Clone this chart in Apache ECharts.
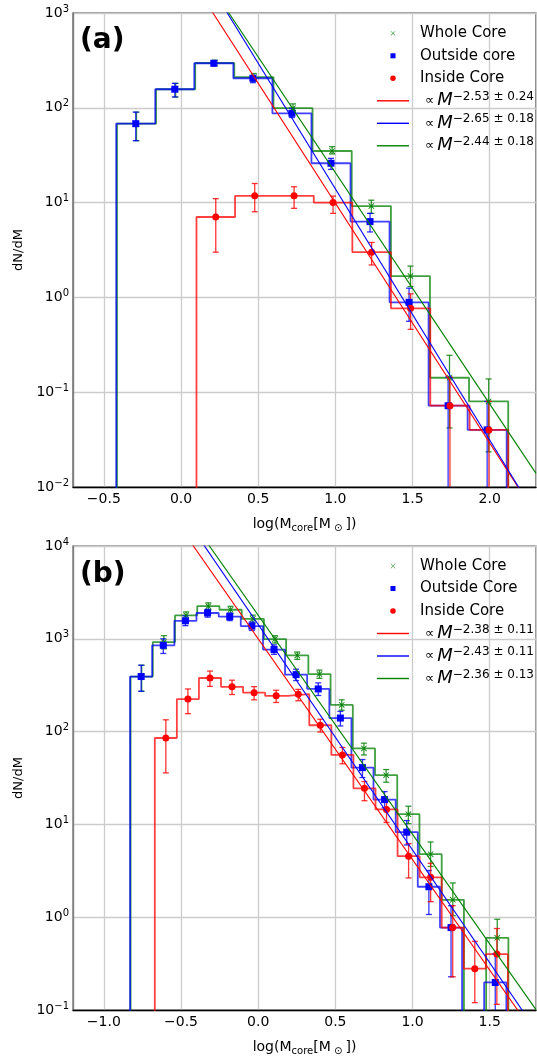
<!DOCTYPE html>
<html><head><meta charset="utf-8">
<script src="https://cdn.jsdelivr.net/npm/echarts@6/dist/echarts.min.js"></script>
<style>html,body{margin:0;padding:0;background:#fff}#c{width:537px;height:1057px}</style>
</head><body><div id="c"></div>
<script>
// ---------------- Panel (a) data ----------------
const A_EDGES_WHOLE   = [-0.415, -0.162, 0.092, 0.345, 0.599, 0.852, 1.106, 1.36, 1.613, 1.866, 2.12];
const A_WHOLE         = [68, 157, 297, 210, 99, 35, 9.2, 1.68, 0.142, 0.080];
const A_WHOLE_ERR     = [[45,90],[130,181],[278,318],[190,230],[90,110],[32.6,38.9],[7.7,10.6],[1.3,2.14],[0.042,0.245],[0.0235,0.138]];
const A_EDGES_OUTSIDE = [-0.42, -0.167, 0.086, 0.339, 0.592, 0.845, 1.098, 1.351, 1.604, 1.857, 2.11];
const A_OUTSIDE       = [68, 157, 295, 205, 87.5, 26, 6.3, 0.887, 0.072, 0.040];
const A_OUTSIDE_ERR   = [[45,90],[130,181],[278,312],[184,216],[79,99],[22.4,29.3],[4.9,7.7],[0.56,1.25],[1e-6,0.144],[1e-6,0.08]];
const A_EDGES_INSIDE  = [0.10, 0.35, 0.605, 0.86, 1.11, 1.36, 1.615, 1.87, 2.12];
const A_INSIDE        = [7.05, 11.8, 11.8, 10.0, 3.0, 0.767, 0.072, 0.040];
const A_INSIDE_ERR    = [[3.0,11],[8.0,15.9],[8.7,14.7],[7.7,11.7],[2.2,3.8],[0.46,1.09],[1e-6,0.144],[1e-6,0.08]];
const A_FIT_INSIDE    = [[0.0, 3340], [2.3, 0.00507]];
const A_FIT_OUTSIDE   = [[0.0, 6240], [2.3, 0.00501]];
const A_FIT_WHOLE     = [[0.0, 5710], [2.3, 0.01393]];
const A_FIT_LABELS    = ['−2.53 ± 0.24', '−2.65 ± 0.18', '−2.44 ± 0.18'];
const A_NAMES         = ['Whole Core', 'Outside core', 'Inside Core'];

// ---------------- Panel (b) data ----------------
const B_EDGES_WHOLE   = [-0.827,-0.683,-0.539,-0.395,-0.251,-0.107,0.037,0.181,0.325,0.469,0.613,0.757,0.901,1.045,1.189,1.333,1.477,1.621];
const B_WHOLE         = [392, 923, 1791, 2249, 2056, 1642, 993, 662, 417, 194, 65.9, 33.9, 12.9, 4.78, 1.54, 0, 0.60];
const B_WHOLE_ERR     = [[272,519],[780,1080],[1630,1950],[2060,2440],[1870,2240],[1480,1800],[900,1080],[600,720],[375,460],[170,220],[56,75],[28.5,39],[10.2,15.7],[3.52,6.46],[1.04,2.34],null,[0.38,0.95]];
const B_EDGES_OUTSIDE = [-0.83,-0.687,-0.543,-0.400,-0.256,-0.113,0.031,0.174,0.317,0.461,0.604,0.747,0.891,1.034,1.178,1.321,1.464,1.608];
const B_OUTSIDE       = [392, 851, 1563, 1897, 1735, 1371, 766, 411, 288, 140, 40.9, 18.5, 8.24, 2.13, 0.773, 0, 0.198];
const B_OUTSIDE_ERR   = [[272,519],[695,1000],[1385,1767],[1710,2080],[1570,1900],[1230,1520],[680,860],[355,470],[245,335],[115,165],[32,50],[15.1,22.6],[6,11],[1.07,3.19],[0.228,1.33],null,[1e-6,0.4]];
const B_EDGES_INSIDE  = [-0.67,-0.527,-0.384,-0.241,-0.098,0.045,0.188,0.331,0.474,0.617,0.760,0.903,1.046,1.189,1.332,1.475,1.618];
const B_INSIDE        = [85.3, 224, 378, 304, 263, 243, 253, 117, 56.1, 24.5, 14.5, 4.55, 2.69, 0.773, 0.279, 0.401];
const B_INSIDE_ERR    = [[35.9,134],[156,288],[307,449],[251,358],[220,305],[206,279],[215,285],[99,136],[45,67.5],[18,29],[10.5,17.7],[2.65,6.2],[1.47,3.81],[0.228,1.33],[0.12,0.55],[0.115,0.755]];
const B_FIT_INSIDE    = [[-0.6, 26800], [1.8, 0.052]];
const B_FIT_OUTSIDE   = [[-0.6, 40900], [1.8, 0.0603]];
const B_FIT_WHOLE     = [[-0.6, 46800], [1.8, 0.101]];
const B_FIT_LABELS    = ['−2.38 ± 0.11', '−2.43 ± 0.11', '−2.36 ± 0.13'];
const B_NAMES         = ['Whole Core', 'Outside Core', 'Inside Core'];

// ---------------- helpers ----------------
const FONT = 'DejaVu Sans';
const GREEN = '#008000', BLUE = '#0000ff', RED = '#ff0000';
const FLOOR = 1e-6;
const X_PATH = 'path://M1,0L5,4L9,0L10,1L6,5L10,9L9,10L5,6L1,10L0,9L4,5L0,1Z';
const X_ICON = 'path://M0,0M100,100M32,30L50,47L68,30L70,32L53,50L70,68L68,70L50,53L32,70L30,68L47,50L30,32Z';
const SQ_ICON = 'path://M0,0M100,100M29,29H71V71H29Z';
const CI_ICON = 'path://M0,0M100,100M50,27A23,23,0,1,1,49.9,27Z';
const LN_ICON = 'path://M0,0H320V14H0Z';

function stepData(edges, vals) {
  const pts = [[edges[0], FLOOR]];
  vals.forEach((v, i) => {
    const y = v > 0 ? v : FLOOR;
    pts.push([edges[i], y]); pts.push([edges[i + 1], y]);
  });
  pts.push([edges[edges.length - 1], FLOOR]);
  return pts;
}
function pointData(edges, vals) {
  return vals.map((v, i) => v > 0 ? [(edges[i] + edges[i + 1]) / 2, v] : null).filter(Boolean);
}
function errData(edges, errs) {
  return errs.map((e, i) => e ? [(edges[i] + edges[i + 1]) / 2, e[0], e[1]] : null).filter(Boolean);
}
function renderErr(params, api) {
  const cs = params.coordSys;
  const x = api.value(0);
  const pLo = api.coord([x, api.value(1)]);
  const pHi = api.coord([x, api.value(2)]);
  const top = cs.y, bot = cs.y + cs.height;
  const cx = pHi[0];
  const yH = Math.max(top, Math.min(bot, pHi[1]));
  const yL = Math.max(top, Math.min(bot, pLo[1]));
  const style = { stroke: api.visual('color'), lineWidth: 1.3, opacity: 0.8 };
  const ch = [{ type: 'line', shape: { x1: cx, y1: yH, x2: cx, y2: yL }, style }];
  if (pHi[1] >= top && pHi[1] <= bot) ch.push({ type: 'line', shape: { x1: cx - 3, y1: pHi[1], x2: cx + 3, y2: pHi[1] }, style });
  if (pLo[1] >= top && pLo[1] <= bot) ch.push({ type: 'line', shape: { x1: cx - 3, y1: pLo[1], x2: cx + 3, y2: pLo[1] }, style });
  return { type: 'group', children: ch };
}

const series = [];
function addPanel(p, groups, fits, fitNames) {
  groups.forEach(g => {
    series.push({ type: 'line', name: 'hist' + p + g.color, xAxisIndex: p, yAxisIndex: p,
      data: stepData(g.edges, g.vals), symbol: 'none', silent: true, z: 3,
      lineStyle: { color: g.color, width: 1.8, opacity: 0.75 }, itemStyle: { color: g.color } });
  });
  groups.forEach(g => {
    series.push({ type: 'custom', name: 'err' + p + g.color, xAxisIndex: p, yAxisIndex: p,
      data: errData(g.edges, g.errs), renderItem: renderErr, encode: { x: 0, y: [1, 2] },
      itemStyle: { color: g.color }, silent: true, z: 4 });
  });
  groups.forEach(g => {
    series.push({ type: 'scatter', name: g.name, xAxisIndex: p, yAxisIndex: p,
      data: pointData(g.edges, g.vals), symbol: g.symbol, symbolSize: g.size,
      itemStyle: { color: g.color, opacity: 1 }, z: 5, silent: true });
  });
  fits.forEach((f, i) => {
    series.push({ type: 'line', name: fitNames[i], xAxisIndex: p, yAxisIndex: p,
      data: f.data, symbol: 'none', z: 6, silent: true, color: f.color,
      lineStyle: { color: f.color, width: 1.1 }, itemStyle: { color: f.color } });
  });
}

addPanel(0, [
  { name: A_NAMES[0], color: GREEN, edges: A_EDGES_WHOLE, vals: A_WHOLE, errs: A_WHOLE_ERR, symbol: X_PATH, size: 6 },
  { name: A_NAMES[1], color: BLUE, edges: A_EDGES_OUTSIDE, vals: A_OUTSIDE, errs: A_OUTSIDE_ERR, symbol: 'rect', size: 7 },
  { name: A_NAMES[2], color: RED, edges: A_EDGES_INSIDE, vals: A_INSIDE, errs: A_INSIDE_ERR, symbol: 'circle', size: 7 }
], [
  { data: A_FIT_INSIDE, color: RED }, { data: A_FIT_OUTSIDE, color: BLUE }, { data: A_FIT_WHOLE, color: GREEN }
], ['fitA0', 'fitA1', 'fitA2']);

addPanel(1, [
  { name: B_NAMES[0], color: GREEN, edges: B_EDGES_WHOLE, vals: B_WHOLE, errs: B_WHOLE_ERR, symbol: X_PATH, size: 6 },
  { name: B_NAMES[1], color: BLUE, edges: B_EDGES_OUTSIDE, vals: B_OUTSIDE, errs: B_OUTSIDE_ERR, symbol: 'rect', size: 7 },
  { name: B_NAMES[2], color: RED, edges: B_EDGES_INSIDE, vals: B_INSIDE, errs: B_INSIDE_ERR, symbol: 'circle', size: 7 }
], [
  { data: B_FIT_INSIDE, color: RED }, { data: B_FIT_OUTSIDE, color: BLUE }, { data: B_FIT_WHOLE, color: GREEN }
], ['fitB0', 'fitB1', 'fitB2']);

const FIT_LABEL = { fitA0: A_FIT_LABELS[0], fitA1: A_FIT_LABELS[1], fitA2: A_FIT_LABELS[2],
                    fitB0: B_FIT_LABELS[0], fitB1: B_FIT_LABELS[1], fitB2: B_FIT_LABELS[2] };

function legendFor(names, fitNames, top) {
  return {
    orient: 'vertical', left: 377, top: top, padding: 0, itemWidth: 32, itemHeight: 12, itemGap: 2.5,
    selectedMode: false,
    itemStyle: { borderWidth: 0 },
    data: [
      { name: names[0], icon: X_ICON }, { name: names[1], icon: SQ_ICON }, { name: names[2], icon: CI_ICON },
      { name: fitNames[0], icon: LN_ICON }, { name: fitNames[1], icon: LN_ICON }, { name: fitNames[2], icon: LN_ICON }
    ],
    formatter: n => FIT_LABEL[n] ? '{t|∝}{m|M}{e|' + FIT_LABEL[n] + '}' : '{l|' + n + '}',
    textStyle: {
      color: '#000', fontFamily: FONT, fontSize: 15, lineHeight: 20,
      rich: {
        l: { fontSize: 15, lineHeight: 20, padding: [0, 0, 0, 6], fontFamily: FONT, color: '#000' },
        t: { fontSize: 13, lineHeight: 20, padding: [0, 3, 0, 11], fontFamily: FONT, color: '#000' },
        m: { fontSize: 18, lineHeight: 20, fontStyle: 'italic', fontFamily: FONT, color: '#000' },
        e: { fontSize: 12, lineHeight: 14, verticalAlign: 'top', fontFamily: FONT, color: '#000' }
      }
    }
  };
}

function xAxisFor(p, min, max) {
  return {
    type: 'value', gridIndex: p, min: min, max: max,
    name: '{n|log(M}{s|core}{n|[M}{s| ⊙ }{n|])}', nameLocation: 'middle', nameGap: 28,
    nameTextStyle: { fontFamily: FONT, fontSize: 14, color: '#000',
      rich: { n: { fontSize: 14, lineHeight: 18, fontFamily: FONT, color: '#000' },
              s: { fontSize: 10, lineHeight: 6, verticalAlign: 'bottom', fontFamily: FONT, color: '#000' } } },
    axisLine: { show: true, onZero: false, lineStyle: { color: '#000', width: 1.3 } },
    axisTick: { show: false },
    axisLabel: { showMinLabel: false, showMaxLabel: false, margin: 5, fontFamily: FONT, fontSize: 14, color: '#000',
      formatter: v => (v < 0 ? '−' : '') + Math.abs(v).toFixed(1) },
    splitLine: { show: true, lineStyle: { color: '#cccccc', width: 1.3 } }
  };
}
function yAxisFor(p, min, max) {
  return {
    type: 'log', logBase: 10, gridIndex: p, min: min, max: max,
    name: 'dN/dM', nameLocation: 'middle', nameGap: 43, nameRotate: 90,
    nameTextStyle: { fontFamily: FONT, fontSize: 13, color: '#000' },
    axisLine: { show: true, onZero: false, lineStyle: { color: '#808080', width: 1.3 } },
    axisTick: { show: false }, minorTick: { show: false },
    axisLabel: { margin: 4, fontFamily: FONT, color: '#000',
      formatter: v => { const e = Math.round(Math.log10(v)); return '{b|10}{s|' + (e < 0 ? '−' : '') + Math.abs(e) + '}'; },
      rich: { b: { fontSize: 14, lineHeight: 18, fontFamily: FONT, color: '#000' },
              s: { fontSize: 10, lineHeight: 6, verticalAlign: 'top', fontFamily: FONT, color: '#000' } } },
    splitLine: { show: true, lineStyle: { color: '#cccccc', width: 1.3 } }
  };
}

const chart = echarts.init(document.getElementById('c'), null, { renderer: 'canvas' });
chart.setOption({
  animation: false,
  backgroundColor: '#fff',
  title: [
    { text: '(a)', left: 80, top: 27, padding: 0, textStyle: { fontFamily: FONT, fontSize: 28, fontWeight: 'bold', color: '#000' } },
    { text: '(b)', left: 80, top: 561, padding: 0, textStyle: { fontFamily: FONT, fontSize: 28, fontWeight: 'bold', color: '#000' } }
  ],
  legend: [legendFor(A_NAMES, ['fitA0', 'fitA1', 'fitA2'], 23.3), legendFor(B_NAMES, ['fitB0', 'fitB1', 'fitB2'], 556)],
  grid: [
    { left: 73, top: 13, width: 463, height: 474, show: true, borderColor: '#333', borderWidth: 1.2, backgroundColor: 'transparent' },
    { left: 73, top: 546, width: 463, height: 474, show: true, borderColor: '#555', borderWidth: 1.2, backgroundColor: 'transparent' }
  ],
  xAxis: [xAxisFor(0, -0.7, 2.3), xAxisFor(1, -1.2, 1.8)],
  yAxis: [yAxisFor(0, 0.01, 1000), yAxisFor(1, 0.1, 10000)],
  series: series
});
</script>
</body></html>
